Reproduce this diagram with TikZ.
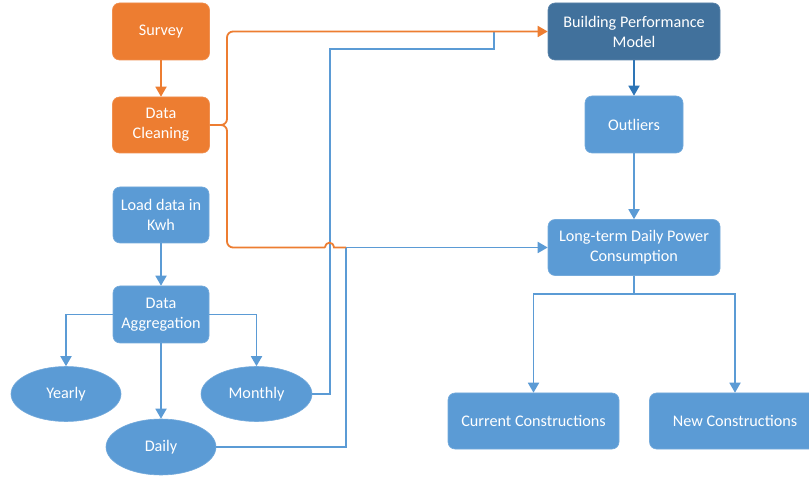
\documentclass[tikz,border=0pt]{standalone}
\usepackage{fontspec}
\setmainfont{Carlito}
\usetikzlibrary{arrows.meta,shapes.geometric}
\definecolor{orng}{HTML}{ED7D31}
\definecolor{blu}{HTML}{5B9BD5}
\definecolor{dblu}{HTML}{41719C}
\definecolor{arrdblu}{HTML}{2E75B6}
\begin{document}
\begin{tikzpicture}[x=1pt,y=-1pt,
  every node/.style={text=white, font=\fontsize{16.2}{20}\selectfont, align=center, inner sep=0pt},
  box/.style={rectangle, rounded corners=7pt, fill=blu, draw=blu!85!white, line width=0.6pt},
  obox/.style={box, fill=orng, draw=orng!85!white},
  dbox/.style={box, fill=dblu, draw=dblu!85!white},
  ell/.style={ellipse, fill=blu, draw=blu!85!white, line width=0.6pt, minimum width=110pt, minimum height=55pt},
  tip/.style={-{Triangle[length=10pt,width=11pt]}},
  bline/.style={draw=blu, line width=1.8pt},
  oline/.style={draw=orng, line width=1.8pt},
  barrow/.style={bline, tip},
  oarrow/.style={oline, tip},
]
\useasboundingbox (0,0) rectangle (809,478);
\fill[white] (0,0) rectangle (809,478);

% nodes
\node[obox, minimum width=97pt, minimum height=57pt] (survey) at (161,31.5) {Survey};
\node[obox, minimum width=97pt, minimum height=56pt] (clean) at (161,125) {Data\\Cleaning};
\node[box, minimum width=96pt, minimum height=56pt] (load) at (161,215) {Load data in\\Kwh};
\node[box, minimum width=96pt, minimum height=57pt] (agg) at (161,314.5) {Data\\Aggregation};
\node[ell] (yearly) at (66,394) {Yearly};
\node[ell, minimum width=111pt] (monthly) at (256.5,394) {Monthly};
\node[ell, minimum height=56pt] (daily) at (161,447) {Daily};
\node[dbox, minimum width=172pt, minimum height=57pt] (bpm) at (634,31.5) {Building Performance\\Model};
\node[box, minimum width=98pt, minimum height=57pt] (out) at (634,124.5) {Outliers};
\node[box, minimum width=172pt, minimum height=56pt] (lt) at (634,247.5) {Long-term Daily Power\\Consumption};
\node[box, minimum width=171pt, minimum height=56pt] (cur) at (533.5,421) {Current Constructions};
\node[box, minimum width=171pt, minimum height=56pt] (new) at (735,421) {New Constructions};

% junction coordinates
\coordinate (oj) at (227,125);
\coordinate (hopa) at (325,247.5);
\coordinate (hopb) at (334,247.5);
\coordinate (omerge) at (346,247.5);
\coordinate (mj1) at (330,394);
\coordinate (mj2) at (330,49);
\coordinate (mj3) at (494,49);
\coordinate (mj4) at (494,31.5);
\coordinate (dj) at (346,447);
\coordinate (lj) at (634,294);

% blue lines from Monthly and Daily
\draw[bline] (monthly.east) -- (mj1) -- (mj2) -- (mj3) -- (mj4);
\draw[barrow] (daily.east) -- (dj) -- (omerge) -- (lt.west);

% orange lines
\draw[oarrow] (survey) -- (clean);
\draw[oarrow, rounded corners=6pt] (clean.east) -- (oj) |- (bpm.west);
\draw[oline, rounded corners=6pt] (clean.east) -- (oj) |- (hopa);
\draw[oline] (hopa) .. controls (326,241) and (333,241) .. (hopb) -- (omerge);

% left column
\draw[barrow] (load) -- (agg);
\draw[barrow] (agg.west) -| (yearly.north);
\draw[barrow] (agg.east) -| (monthly.north);
\draw[barrow] (agg) -- (daily);

% right column
\draw[line width=1.8pt, draw=arrdblu, tip] (bpm) -- (out);
\draw[barrow] (out) -- (lt);
\draw[barrow] (lt.south) -- (lj) -| (cur.north);
\draw[barrow] (lj) -| (new.north);
\end{tikzpicture}
\end{document}
